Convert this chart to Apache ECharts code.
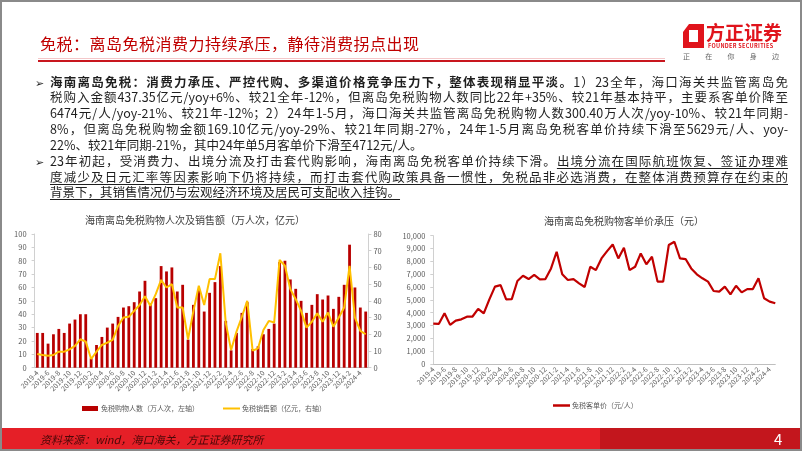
<!DOCTYPE html>
<html><head><meta charset="utf-8">
<script src="https://cdn.jsdelivr.net/npm/echarts@6/dist/echarts.min.js"></script>
<style>
html,body{margin:0;padding:0;background:#fff;}
#page{position:relative;width:802px;height:451px;overflow:hidden;font-family:"Noto Sans CJK SC","Noto Sans",sans-serif;}
#c{position:absolute;left:0;top:0;width:802px;height:451px;}
.ab{position:absolute;}
.ln{position:absolute;left:50px;width:738px;height:16px;line-height:16px;font-size:12.5px;color:#1f1f1f;text-align:justify;text-align-last:justify;overflow:hidden;}
.ln.last{text-align-last:left;}
.u{text-decoration:underline;text-underline-offset:2px;text-decoration-thickness:1px;}
.bul{position:absolute;left:35px;font-size:11px;color:#1f1f1f;line-height:16px;}
</style></head>
<body>
<div id="page">
<div id="c"></div>
<!-- title -->
<div class="ab" style="left:40px;top:32px;font-size:16px;letter-spacing:0.5px;color:#c00000;line-height:22px;">免税：离岛免税消费力持续承压，静待消费拐点出现</div>
<div class="ab" style="left:38px;top:58px;width:627px;height:1px;background:#f4c7c9;"></div>
<div class="ab" style="left:38px;top:60px;width:627px;height:2px;background:#c8161e;"></div>
<!-- logo -->
<svg class="ab" style="left:683px;top:24px" width="21" height="24" viewBox="0 0 21 24">
<path d="M6 0 H21 V24 H0 V8 Z M6 6 V18 H15 V6 Z" fill="#e0141c" fill-rule="evenodd"/>
</svg>
<div class="ab" style="left:706px;top:20px;font-size:19px;font-weight:bold;color:#e0141c;line-height:24px;letter-spacing:0px;">方正证券</div>
<div class="ab" style="left:708px;top:43px;font-size:5.5px;font-weight:bold;color:#e0141c;line-height:6px;letter-spacing:0.3px;">FOUNDER SECURITIES</div>
<div class="ab" style="left:683px;top:52px;width:96px;font-size:7px;color:#666;line-height:9px;text-align:justify;text-align-last:justify;">正 在 你 身 边</div>
<!-- text -->
<div class="bul" style="top:74px;">➢</div>
<div class="ln" style="top:74px;"><b>海南离岛免税：消费力承压、严控代购、多渠道价格竞争压力下，整体表现稍显平淡。</b>1）23全年，海口海关共监管离岛免</div>
<div class="ln" style="top:89px;">税购入金额437.35亿元/yoy+6%、较21全年-12%，但离岛免税购物人数同比22年+35%、较21年基本持平，主要系客单价降至</div>
<div class="ln" style="top:105px;">6474元/人/yoy-21%、较21年-12%；2）24年1-5月，海口海关共监管离岛免税购物人数300.40万人次/yoy-10%、较21年同期-</div>
<div class="ln" style="top:121px;">8%，但离岛免税购物金额169.10亿元/yoy-29%、较21年同期-27%，24年1-5月离岛免税客单价持续下滑至5629元/人、yoy-</div>
<div class="ln last" style="top:137px;">22%、较21年同期-21%，其中24年单5月客单价下滑至4712元/人。</div>
<div class="bul" style="top:153px;">➢</div>
<div class="ln" style="top:153px;">23年初起，受消费力、出境分流及打击套代购影响，海南离岛免税客单价持续下滑。<span class="u">出境分流在国际航班恢复、签证办理难</span></div>
<div class="ln" style="top:169px;"><span class="u">度减少及日元汇率等因素影响下仍将持续，而打击套代购政策具备一惯性，免税品非必选消费，在整体消费预算存在约束的</span></div>
<div class="ln last" style="top:184px;"><span class="u">背景下，其销售情况仍与宏观经济环境及居民可支配收入挂钩。</span></div>
<!-- footer -->
<div class="ab" style="left:0;top:428px;width:600px;height:23px;background:#e51f27;"></div>
<div class="ab" style="left:600px;top:428px;width:202px;height:23px;background:#c3161d;"></div>
<div class="ab" style="left:40px;top:431px;font-size:11px;font-style:italic;color:#4a0808;line-height:16px;">资料来源：wind，海口海关，方正证券研究所</div>
<div class="ab" style="left:774px;top:429px;font-size:15px;color:#fff;line-height:20px;">4</div>
<div class="ab" style="left:0;top:0;width:802px;height:451px;box-sizing:border-box;border:2px solid #8a8a8a;"></div>
</div>
<script>
const months = ['2019-4','2019-5','2019-6','2019-7','2019-8','2019-9','2019-10','2019-11','2019-12',
'2020-1','2020-2','2020-3','2020-4','2020-5','2020-6','2020-7','2020-8','2020-9','2020-10','2020-11','2020-12',
'2021-1','2021-2','2021-3','2021-4','2021-5','2021-6','2021-7','2021-8','2021-9','2021-10','2021-11','2021-12',
'2022-1','2022-2','2022-3','2022-4','2022-5','2022-6','2022-7','2022-8','2022-9','2022-10','2022-11','2022-12',
'2023-1','2023-2','2023-3','2023-4','2023-5','2023-6','2023-7','2023-8','2023-9','2023-10','2023-11','2023-12',
'2024-1','2024-2','2024-3','2024-4','2024-5'];
// 免税购物人数（万人次）
const shoppers = [26,26,18,25,29,26,33,36,40,
40,7,17,23,30,33,38,45,46,49,57,65,
48,52,76,72,75,57,62,21,47,58,42,56,
64,76,35,13,26,41,49,14,16,25,29,33,
79,80,66,59,50,41,47,55,51,54,44,53,
62,92,60,45,42];
// 免税销售额（亿元）
const sales = [8.2,7.6,7.2,7.6,9.6,9.6,11,13,17,
15.6,5.2,9.6,13.6,15,16.6,25,30,30.5,34,37.5,42.7,
37,44,52.5,48,50,36,36,17,34,49,37.5,53,
53,68.5,27,10.6,21.6,30.5,40,10.2,11.6,22.6,28,27,
64.5,61,47,41,34,24,27.5,32.5,27.5,33,24.5,30,
36,61,30,22,20];
// 免税客单价（元/人）
const unitPrice = [3150,3130,3950,3050,3380,3480,3690,3700,4290,
3950,5040,6030,6150,5040,5060,6470,6880,6620,6940,6600,6620,
7450,8750,6990,6550,6620,6290,6000,7580,7320,8230,8800,9320,
8230,9060,7320,7580,8620,7770,8360,6420,6420,9270,9530,8230,
8180,7450,6990,6680,6420,5690,5640,6030,5430,6100,5580,5840,
5840,6680,5120,4860,4730];

const FF = '"Noto Sans CJK SC","Noto Sans",sans-serif';
const labelColor = '#595959';
const chart = echarts.init(document.getElementById('c'));
const catAxis = (gi, gap) => ({
  type:'category', gridIndex:gi, data:months, boundaryGap:gap,
  axisLabel:{interval:1, rotate:45, fontSize:7, color:labelColor, margin:4, fontFamily:FF},
  axisLine:{lineStyle:{color:'#bfbfbf', width:1}},
  axisTick:{show:false}
});
const valAxis = (gi, max, itv, pos, fmt) => ({
  type:'value', gridIndex:gi, min:0, max:max, interval:itv, position:pos,
  axisLabel:{fontSize:7.5, color:labelColor, margin:pos==='right'?5:8, fontFamily:FF, formatter:fmt},
  axisLine:{show:true, lineStyle:{color:'#d0d0d0'}},
  axisTick:{show:true, length:3, lineStyle:{color:'#d0d0d0'}},
  splitLine:{show:false}
});
chart.setOption({
  animation:false,
  textStyle:{fontFamily:FF},
  title:[
    {text:'海南离岛免税购物人次及销售额（万人次，亿元）', left:190, top:210, textAlign:'center',
     textStyle:{fontSize:10, fontWeight:'normal', color:'#404040', fontFamily:FF}},
    {text:'海南离岛免税购物客单价承压（元）', left:619, top:211, textAlign:'center',
     textStyle:{fontSize:10, fontWeight:'normal', color:'#404040', fontFamily:FF}}
  ],
  legend:[
    {data:[{name:'免税购物人数（万人次，左轴）', icon:'rect'}], left:77, top:400, itemWidth:16, itemHeight:5, itemGap:4,
     textStyle:{fontSize:7, color:labelColor, fontFamily:FF, padding:[0,0,0,-2]}},
    {data:[{name:'免税销售额（亿元，右轴）', icon:'rect'}], left:218, top:400, itemWidth:17, itemHeight:2,
     textStyle:{fontSize:7, color:labelColor, fontFamily:FF, padding:[0,0,0,-3]}},
    {data:[{name:'免税客单价（元/人）', icon:'rect'}], left:548, top:397, itemWidth:17, itemHeight:2.5,
     textStyle:{fontSize:7, color:labelColor, fontFamily:FF, padding:[0,0,0,-3]}}
  ],
  grid:[
    {left:34.6, top:234, width:333.8, height:133.7},
    {left:433.3, top:235.7, width:342, height:128.3}
  ],
  xAxis:[catAxis(0, true), catAxis(1, false)],
  yAxis:[
    valAxis(0, 100, 10, 'left'),
    valAxis(0, 80, 10, 'right'),
    valAxis(1, 10000, 1000, 'left', v => v.toLocaleString('en-US'))
  ],
  series:[
    {name:'免税购物人数（万人次，左轴）', type:'bar', xAxisIndex:0, yAxisIndex:0, data:shoppers,
     barWidth:'52%', itemStyle:{color:'#b80000'}},
    {name:'免税销售额（亿元，右轴）', type:'line', xAxisIndex:0, yAxisIndex:1, data:sales,
     showSymbol:false, symbol:'none', lineStyle:{color:'#ffc000', width:2}, itemStyle:{color:'#ffc000'}},
    {name:'免税客单价（元/人）', type:'line', xAxisIndex:1, yAxisIndex:2, data:unitPrice,
     showSymbol:false, symbol:'none', lineStyle:{color:'#c00000', width:2.2}, itemStyle:{color:'#c00000'}}
  ]
});
</script>
</body></html>
